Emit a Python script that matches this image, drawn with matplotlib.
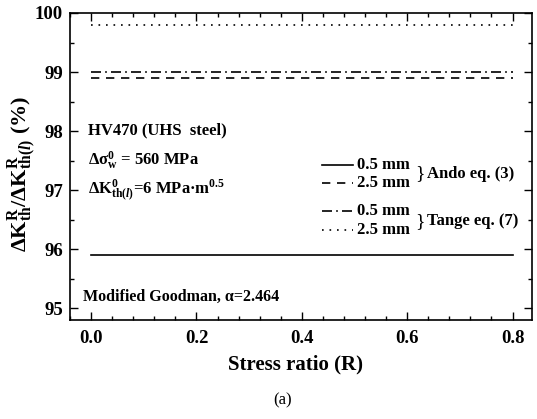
import numpy as np
import matplotlib
matplotlib.use('Agg')
import matplotlib.pyplot as plt
from matplotlib.ticker import MultipleLocator, AutoMinorLocator

plt.rcParams['font.family'] = ['Liberation Serif', 'DejaVu Serif']
plt.rcParams['font.weight'] = 'bold'
plt.rcParams['mathtext.fontset'] = 'custom'
plt.rcParams['mathtext.rm'] = 'Liberation Serif:bold'
plt.rcParams['mathtext.bf'] = 'Liberation Serif:bold'
plt.rcParams['mathtext.it'] = 'Liberation Serif:bold:italic'

# ---- 数据 ----
stress_ratio = [0.0, 0.2, 0.4, 0.6, 0.8]
ando_05 = [95.9, 95.9, 95.9, 95.9, 95.9]
ando_25 = [98.9, 98.9, 98.9, 98.9, 98.9]
tange_05 = [99.0, 99.0, 99.0, 99.0, 99.0]
tange_25 = [99.8, 99.8, 99.8, 99.8, 99.8]

series = [
    (ando_05, '-', '0.5 mm'),
    (ando_25, (0, (5, 4)), '2.5 mm'),
    (tange_05, (0, (6, 2.5, 1, 2.5)), '0.5 mm'),
    (tange_25, (0, (1, 3.5)), '2.5 mm'),
]

fig = plt.figure(figsize=(5.37, 4.19), dpi=100)
ax = fig.add_axes([0.1304, 0.2363, 0.8603, 0.7327])

for vals, ls, _ in series:
    ax.plot(stress_ratio, vals, color='black', linestyle=ls, linewidth=1.2)

ax.set_xlim(-0.04, 0.837)
ax.set_ylim(94.8, 100)
ax.set_xticks([0.0, 0.2, 0.4, 0.6, 0.8])
ax.set_xticklabels(['0.0', '0.2', '0.4', '0.6', '0.8'])
ax.set_yticks([95, 96, 97, 98, 99, 100])
ax.set_yticklabels(['95', '96', '97', '98', '99', '100'])
ax.xaxis.set_minor_locator(AutoMinorLocator(5))
ax.yaxis.set_minor_locator(AutoMinorLocator(2))
ax.tick_params(which='both', direction='in', top=True, right=True)
ax.tick_params(which='major', length=5.5, width=1, labelsize=13.5)
ax.tick_params(which='minor', length=3, width=1)
ax.tick_params(axis='x', which='major', pad=7)
ax.tick_params(axis='y', which='major', pad=5)
for s in ax.spines.values():
    s.set_linewidth(1.2)

ax.set_xlabel('Stress ratio (R)', fontsize=15, fontweight='bold')
ax.xaxis.set_label_coords(0.489, -0.112)
ax.set_ylabel(r'ΔK$_{\mathrm{th}}^{\mathrm{R}}$/ΔK$_{\mathrm{th}(l)}^{\mathrm{R}}$ (%)',
              fontsize=16, fontweight='bold')
ax.yaxis.set_label_coords(-0.068, 0.475)

# ---- 注释 ----
ax.text(0.039, 0.619, 'HV470 (UHS  steel)', transform=ax.transAxes,
        fontsize=12, fontweight='bold', va='center')
ax.text(0.039, 0.521, r'Δσ$_{\mathrm{w}}^{0}$ = 560 MPa', transform=ax.transAxes,
        fontsize=12, fontweight='bold', va='center')
ax.text(0.039, 0.423, r'ΔK$_{\mathrm{th}(l)}^{0}$=6 MPa·m$^{0.5}$', transform=ax.transAxes,
        fontsize=12, fontweight='bold', va='center')
ax.text(0.028, 0.075, 'Modified Goodman, α=2.464', transform=ax.transAxes,
        fontsize=11.5, fontweight='bold', va='center')

# ---- 自定义图例 ----
rows_y = [0.505, 0.446, 0.355, 0.293]
for (vals, ls, lab), yy in zip(series, rows_y):
    ax.plot([0.545, 0.613], [yy, yy], transform=ax.transAxes,
            color='black', linestyle=ls, linewidth=1.2)
    ax.text(0.621, yy, lab, transform=ax.transAxes, fontsize=12,
            fontweight='bold', va='center')
ax.text(0.748, 0.476, '}', transform=ax.transAxes, fontsize=14,
        fontweight='normal', va='center')
ax.text(0.772, 0.476, 'Ando eq. (3)', transform=ax.transAxes, fontsize=12,
        fontweight='bold', va='center')
ax.text(0.748, 0.322, '}', transform=ax.transAxes, fontsize=14,
        fontweight='normal', va='center')
ax.text(0.772, 0.322, 'Tange eq. (7)', transform=ax.transAxes, fontsize=12,
        fontweight='bold', va='center')

fig.text(0.527, 0.045, '(a)', ha='center', va='center', fontsize=12, fontweight='normal')

fig.savefig('out.png', dpi=100)
